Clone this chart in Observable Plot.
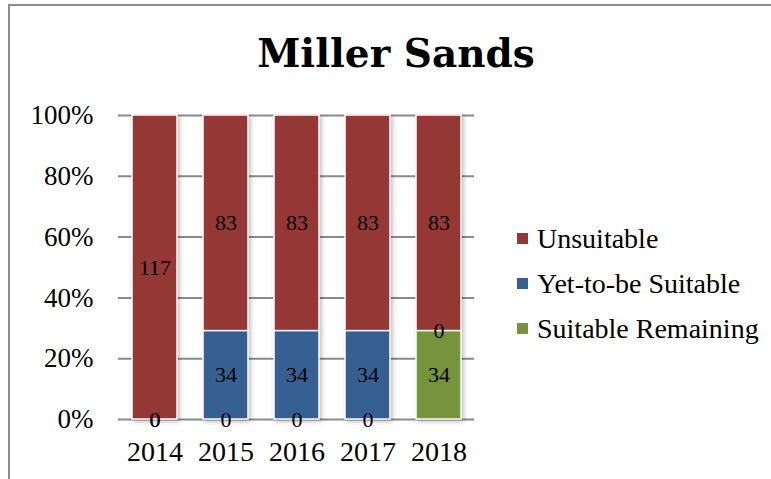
<!DOCTYPE html>
<html>
<head>
<meta charset="utf-8">
<script src="https://cdn.jsdelivr.net/npm/d3@7"></script>
<script src="https://cdn.jsdelivr.net/npm/@observablehq/plot@0.6"></script>
<style>
  html, body { margin: 0; padding: 0; background: #fff; }
  #wrap { position: relative; width: 771px; height: 479px; overflow: hidden; background: #fff; }
  #frame { position: absolute; left: 8px; top: 4px; right: -10px; bottom: -10px;
           border-left: 2px solid #8c8c8c; border-top: 2px solid #8c8c8c; }
  #title { position: absolute; left: 0; width: 792px; top: 30px; text-align: center;
           font-family: "DejaVu Serif", serif; font-weight: bold; font-size: 39px; color: #000; }
  #legend { position: absolute; left: 517px; top: 225px; font-family: "Liberation Serif", serif;
            font-size: 28px; color: #000; }
  .item { position: relative; height: 45px; line-height: 28px; white-space: nowrap; }
  .sw { position: absolute; left: 0; top: 8px; width: 11px; height: 11px; }
  .lbl { position: absolute; left: 20px; top: 0; }
  svg { position: absolute; left: 0; top: 0; }
</style>
</head>
<body>
<div id="wrap">
  <div id="frame"></div>
  <div id="title"></div>
  <div id="legend"></div>
</div>
<script>
const title = "Miller Sands";
const years = ["2014", "2015", "2016", "2017", "2018"];
const unsuitable = [117, 83, 83, 83, 83];
const yetToBeSuitable = [0, 34, 34, 34, 0];
const suitableRemaining = [0, 0, 0, 0, 34];
const seriesNames = ["Unsuitable", "Yet-to-be Suitable", "Suitable Remaining"];
const seriesColors = ["#953735", "#376092", "#77933C"];
const stackOrder = ["Suitable Remaining", "Yet-to-be Suitable", "Unsuitable"];
const yTicks = [0, 0.2, 0.4, 0.6, 0.8, 1];

const seriesValues = [unsuitable, yetToBeSuitable, suitableRemaining];
const rows = [];
years.forEach((year, i) => {
  seriesNames.forEach((s, j) => rows.push({year, series: s, value: seriesValues[j][i]}));
});

const stackOpts = {x: "year", y: "value", z: "series", order: stackOrder, offset: "normalize"};

const chart = Plot.plot({
  width: 771,
  height: 479,
  marginLeft: 118,
  marginRight: 297,
  marginTop: 115,
  marginBottom: 60,
  style: {fontFamily: "Liberation Serif, serif", fontSize: "27px", color: "#000", background: "transparent", overflow: "visible"},
  x: {domain: years, paddingInner: 0.37, paddingOuter: 0.185, label: null},
  y: {domain: [0, 1], label: null},
  color: {domain: seriesNames, range: seriesColors},
  marks: [
    Plot.ruleY(yTicks, {stroke: "#8a8a8a", strokeWidth: 2}),
    Plot.barY(rows, Plot.stackY({...stackOpts, fill: "series", stroke: "white", strokeWidth: 1.5,
      imageFilter: "drop-shadow(2px 2px 2px rgba(0,0,0,0.25))"})),
    Plot.text(rows, Plot.stackY({...stackOpts, text: d => String(d.value), fill: "#000", fontSize: 22})),
    Plot.axisY({ticks: yTicks, tickFormat: d => `${Math.round(d * 100)}%`, tickSize: 0, tickPadding: 25, fontSize: 27, label: null}),
    Plot.axisX({tickSize: 0, tickPadding: 22, fontSize: 28, label: null})
  ]
});

const wrap = document.getElementById("wrap");
wrap.insertBefore(chart, document.getElementById("title"));
document.getElementById("title").textContent = title;

const legend = document.getElementById("legend");
seriesNames.forEach((s, j) => {
  const item = document.createElement("div");
  item.className = "item";
  const sw = document.createElement("div");
  sw.className = "sw";
  sw.style.background = seriesColors[j];
  const lbl = document.createElement("div");
  lbl.className = "lbl";
  lbl.textContent = s;
  item.appendChild(sw);
  item.appendChild(lbl);
  legend.appendChild(item);
});
</script>
</body>
</html>
